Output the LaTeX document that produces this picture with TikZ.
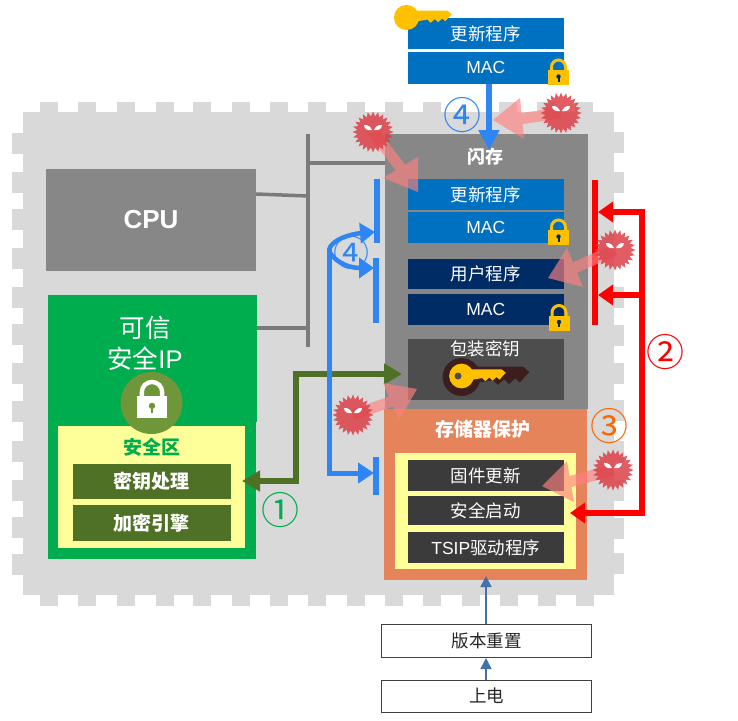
\documentclass[tikz,border=0pt]{standalone}
\usepackage{fontspec}
\setmainfont{Liberation Sans}
\newfontfamily\cjk{Noto Sans CJK SC}
\usetikzlibrary{arrows.meta,calc,shapes.geometric}
\definecolor{chipgray}{HTML}{D9D9D9}
\definecolor{darkgray}{HTML}{878787}
\definecolor{busgray}{HTML}{7A7A7A}
\definecolor{updblue}{HTML}{0070C0}
\definecolor{navy}{HTML}{002C66}
\definecolor{keybox}{HTML}{4D4D4D}
\definecolor{rowdark}{HTML}{3B3B3B}
\definecolor{orangebox}{HTML}{E5835B}
\definecolor{paleyellow}{HTML}{FFFF99}
\definecolor{ipgreen}{HTML}{00AD4E}
\definecolor{leaf}{HTML}{4F7125}
\definecolor{linkblue}{HTML}{2E86F5}
\definecolor{steel}{HTML}{4472A8}
\definecolor{lockgold}{HTML}{FFC000}
\definecolor{monster}{HTML}{DC4048}
\definecolor{pinkarrow}{HTML}{FF8080}
\definecolor{discgreen}{HTML}{6F9638}
\definecolor{keyshadow}{HTML}{3D1E1E}
\tikzset{
  bxbase/.style={inner sep=0pt,outer sep=0pt,text=white,align=center,font=\fontsize{17.5}{19}\selectfont},
  updrow/.style={bxbase,fill=updblue},
  navyrow/.style={bxbase,fill=navy},
  keyrow/.style={bxbase,fill=keybox},
  darkrow/.style={bxbase,fill=rowdark},
  greenrow/.style={bxbase,fill=leaf,font=\fontsize{19}{21}\selectfont\bfseries},
  panel/.style={bxbase,fill=darkgray},
  plainrow/.style={bxbase,fill=white,draw=black!75,line width=1pt,text=black!85},
  orangepanel/.style={bxbase,fill=orangebox},
  yellowpanel/.style={bxbase,fill=paleyellow},
  greenpanel/.style={bxbase,fill=ipgreen},
  label/.style={inner sep=0pt,outer sep=0pt,text=white,font=\fontsize{19}{21}\selectfont\bfseries},
  numeral/.style={inner sep=0pt,outer sep=0pt,font=\cjk\fontsize{38}{38}\selectfont},
  linkline/.style={line width=5pt,draw=linkblue},
  bluehead/.style={line width=4.5pt,draw=linkblue,-{Triangle[width=20pt,length=15pt]}},
  redline/.style={line width=6pt,draw=red},
  redhead/.style={line width=6pt,draw=red,-{Triangle[width=20pt,length=15pt]}},
  greenhead/.style={line width=6pt,draw=leaf,-{Triangle[width=20pt,length=18pt]}},
  greenline/.style={line width=6pt,draw=leaf},
  busline/.style={line width=3.5pt,draw=busgray},
  bootarrow/.style={line width=1.6pt,draw=steel,-{Triangle[width=11pt,length=11pt]}},
  monsterbody/.style={star,star points=24,star point ratio=1.3,minimum size=41pt,inner sep=0pt,fill=monster,fill opacity=.85},
}
\newcommand\bx[7]{%
  \pgfmathsetmacro\bxcx{(#3+#5)/2}\pgfmathsetmacro\bxcy{(#4+#6)/2}%
  \pgfmathsetmacro\bxw{#5-#3}\pgfmathsetmacro\bxh{#6-#4}%
  \node[#1,minimum width=\bxw pt,minimum height=\bxh pt] (#2) at (\bxcx,\bxcy) {#7};}
\newcommand\zh[1]{{\cjk #1}}
\newcommand\lockicon[5]{% x, top y, scale, colour, hole colour
  \begin{scope}[shift={(#1,#2)},x=#3pt,y=-#3pt]
    \fill[#4] (-10.5,11) rectangle (10.5,26);
    \draw[#4,line width=#3*3pt] (-7,12) -- (-7,8) arc (180:360:7) -- (7,12);
    \fill[#5] (0,17.5) circle (2.2);
    \fill[#5] (-1,18) rectangle (1,22.5);
  \end{scope}}
\newcommand\keyicon[4]{% x, y, scale, colour
  \begin{scope}[shift={(#1,#2)},x=#3pt,y=-#3pt]
    \fill[#4] (0,0) circle (12);
    \fill[#4] (8,-6.5) -- (39,-6.5) -- (43,-3) -- (40,0) -- (37,3.5) -- (34,1) -- (30,4.5) -- (27,1.5) -- (23,5) -- (20,2) -- (8,4) -- cycle;
  \end{scope}}
\newcommand\monsterat[3]{% name, x, y
  \node[monsterbody] (#1) at (#2,#3) {};
  \begin{scope}[shift={(#2,#3)}]
    \fill[white] (-9,-7) .. controls (-5,-7.5) and (-2,-5) .. (-1,-2) .. controls (-5,-1) and (-9,-3) .. cycle;
    \fill[white] (9,-7) .. controls (5,-7.5) and (2,-5) .. (1,-2) .. controls (5,-1) and (9,-3) .. cycle;
  \end{scope}}
\newcommand\pinkfrom[4]{% from, tip, base a, base b
  \coordinate (pm) at ($(#3)!.5!(#4)$);
  \fill[pinkarrow,fill opacity=.65]
    ($(#1)+.27*(#3)-.27*(pm)$) -- ($(pm)+.27*(#3)-.27*(pm)$) -- (#3) -- (#2) -- (#4)
    -- ($(pm)+.27*(#4)-.27*(pm)$) -- ($(#1)+.27*(#4)-.27*(pm)$) -- cycle;}
\begin{document}
\begin{tikzpicture}[x=1pt,y=-1pt]
\useasboundingbox (0,0) rectangle (738,720);
% chip outline
\fill[chipgray] (23,112) rectangle (614,595);
\foreach \t in {40,78,117,156,193,232,270,308,347,385,423,499,537,575}{\fill[chipgray] (\t,102) rectangle (\t+18,112);}
\foreach \t in {40,78,117,156,193,232,270,308,347,385,423,462,500,538,576}{\fill[chipgray] (\t,595) rectangle (\t+18,606);}
\foreach \t in {133,172,209,248,287,324,363,401,441,480,517,554}{\fill[chipgray] (11.5,\t) rectangle (23,\t+21);}
\foreach \t in {132,172,287,325,363,400,441,480,518,553}{\fill[chipgray] (614,\t) rectangle (624,\t+21);}
% left blocks
\bx{panel}{cpu}{46}{168.5}{256}{271}{\fontsize{26}{28}\selectfont\bfseries CPU}
\bx{greenpanel}{ipupper}{47.5}{295}{257}{422}{}
\bx{greenpanel}{ip}{47.5}{420}{256}{559}{}
\node[label,font=\fontsize{25.5}{27}\selectfont] (iptitlea) at (145,328) {\zh{可信}};
\node[label,font=\fontsize{25.5}{27}\selectfont] (iptitleb) at (145,359) {\zh{安全}IP};
\bx{yellowpanel}{safe}{58}{426}{245}{548}{}
\node[label,text=ipgreen] (safetitle) at (152,447) {\zh{安全区}};
\bx{greenrow}{keyproc}{72.5}{463.5}{231}{499}{\zh{密钥处理}}
\bx{greenrow}{crypto}{72.5}{505}{231}{541}{\zh{加密引擎}}
\node[circle,minimum size=62pt,inner sep=0pt,fill=discgreen] (lockdisc) at (151.5,403) {};
\lockicon{152}{380.5}{1.45}{white}{discgreen}
% right blocks
\bx{updrow}{newprog}{407.5}{18}{564}{49}{\zh{更新程序}}
\bx{updrow}{newmac}{407.5}{52}{564}{83.5}{MAC}
\bx{panel}{flash}{385}{134}{588}{409}{}
\node[label,font=\fontsize{18}{20}\selectfont\bfseries] (flashtitle) at (485,157) {\zh{闪存}};
\bx{updrow}{fprog}{407.5}{179}{564}{210}{\zh{更新程序}}
\bx{updrow}{fmac}{407.5}{212}{564}{243}{MAC}
\bx{navyrow}{uprog}{407.5}{259}{564}{289}{\zh{用户程序}}
\bx{navyrow}{umac}{407.5}{294}{564}{325}{MAC}
\bx{keyrow}{wrapkey}{407.5}{339}{564}{400}{}
\node[inner sep=0pt,text=white,font=\fontsize{17.5}{19}\selectfont] (wrapkeytext) at (485,349) {\zh{包装密钥}};
\bx{orangepanel}{protect}{384}{409}{587}{580}{}
\node[label] (protecttitle) at (483,429) {\zh{存储器保护}};
\bx{yellowpanel}{protin}{395}{453}{576}{569}{}
\bx{darkrow}{fwup}{407.5}{460}{564}{491}{\zh{固件更新}}
\bx{darkrow}{sboot}{407.5}{496}{564}{525}{\zh{安全启动}}
\bx{darkrow}{driver}{407.5}{532}{564}{563}{TSIP\zh{驱动程序}}
\bx{plainrow}{reset}{381.5}{624}{591.5}{657}{\zh{版本重置}}
\bx{plainrow}{power}{381.5}{680}{591.5}{712}{\zh{上电}}
% keys and locks
\keyicon{406.5}{17.5}{1.05}{lockgold}
\keyicon{461.5}{377}{1.58}{keyshadow}
\keyicon{461.5}{376}{1.03}{lockgold}
\fill[keybox] (458,376) circle (3.5);
\lockicon{558.5}{59}{1}{lockgold}{navy}
\lockicon{558.5}{219}{1}{lockgold}{navy}
\lockicon{559}{304.5}{1}{lockgold}{navy}
% bus
\coordinate (bustop) at (308,134);
\coordinate (busbot) at (308,347);
\draw[busline] (bustop) -- (busbot);
\draw[busline] (308,163) -- (flash.west |- 308,163);
\draw[busline] (cpu.east |- 0,194) -- (308,196);
\draw[busline] (ipupper.east |- 0,328) -- (308,328);
% boot arrows
\draw[bootarrow] (reset.north -| 486,0) -- (486,576);
\draw[bootarrow] (power.north -| 486,0) -- (486,658);
% green link
\coordinate (gcorner) at (296,374);
\coordinate (gfoot) at (296,481);
\coordinate (gkey) at (402,374);
\coordinate (gsafe) at (242,481);
\draw[greenline,line cap=rect] (gfoot) -- (gcorner);
\draw[greenhead] (gcorner) -- (gkey);
\draw[greenhead] (gfoot) -- (gsafe);
\node[numeral,text=ipgreen] (num1) at (280,510) {①};
% blue links
\coordinate (bluejoin) at (329,250);
\coordinate (blueelbow) at (329,473);
\coordinate (barAtop) at (377,179);
\coordinate (barAbot) at (377,243);
\coordinate (barBtop) at (376,258);
\coordinate (barBbot) at (376,323);
\coordinate (barCtop) at (376,457);
\coordinate (barCbot) at (376,495);
\coordinate (barAin) at (375,232);
\coordinate (barBin) at (374,268);
\coordinate (barCin) at (374,473);
\draw[linkline,line width=6.5pt] (barAtop) -- (barAbot);
\draw[linkline,line width=6.5pt] (barBtop) -- (barBbot);
\draw[linkline,line width=6.5pt] (barCtop) -- (barCbot);
\node[numeral,text=linkblue,font=\cjk\fontsize{36}{36}\selectfont] (num4b) at (351,253) {④};
\draw[linkline,line cap=rect] (blueelbow) -- (bluejoin);
\draw[bluehead] (bluejoin) .. controls (331,240) and (350,234) .. (barAin);
\draw[bluehead] (bluejoin) .. controls (331,258) and (345,268) .. (barBin);
\draw[linkline,-{Triangle[width=20pt,length=16pt]}] (blueelbow) -- (barCin);
\draw[linkline,line width=6pt,-{Triangle[width=20pt,length=20pt]}] (newmac.south -| 489,0) -- (489,150);
\node[numeral,text=linkblue] (num4a) at (462,115) {④};
% red links
\coordinate (redA) at (642,212);
\coordinate (redB) at (642,295);
\coordinate (redC) at (642,513);
\coordinate (redbartop) at (595,180);
\coordinate (redbarbot) at (595,325);
\coordinate (redbarA) at (598,212);
\coordinate (redbarB) at (598,295);
\coordinate (redboot) at (570,513);
\draw[redline] (redbartop) -- (redbarbot);
\draw[redline,line cap=rect] (redA) -- (redC);
\draw[redhead] (redA) -- (redbarA);
\draw[redhead] (redB) -- (redbarB);
\draw[redhead] (redC) -- (redboot);
\node[numeral,text=red] (num2) at (665,352) {②};
\node[numeral,text=orange!80!red] (num3) at (609,426) {③};
% attackers
\coordinate (t1) at (418,192); \coordinate (a1) at (418,157); \coordinate (b1) at (383,178);
\coordinate (t2) at (493,120); \coordinate (a2) at (520,98);  \coordinate (b2) at (524,139);
\coordinate (t3) at (548,278); \coordinate (a3) at (567,248); \coordinate (b3) at (583,287);
\coordinate (t4) at (417,389); \coordinate (a4) at (383,383); \coordinate (b4) at (399,420);
\coordinate (t5) at (542,486); \coordinate (a5) at (567,461); \coordinate (b5) at (574,502);
\coordinate (s1) at (373,132); \coordinate (s2) at (561,113); \coordinate (s3) at (615,250);
\coordinate (s4) at (353,415); \coordinate (s5) at (613,470);
\pinkfrom{s1}{t1}{a1}{b1}
\pinkfrom{s2}{t2}{a2}{b2}
\pinkfrom{s3}{t3}{a3}{b3}
\pinkfrom{s4}{t4}{a4}{b4}
\pinkfrom{s5}{t5}{a5}{b5}
\monsterat{m1}{373}{132}
\monsterat{m2}{561}{113}
\monsterat{m3}{615}{250}
\monsterat{m4}{353}{415}
\monsterat{m5}{613}{470}
\end{tikzpicture}
\end{document}
